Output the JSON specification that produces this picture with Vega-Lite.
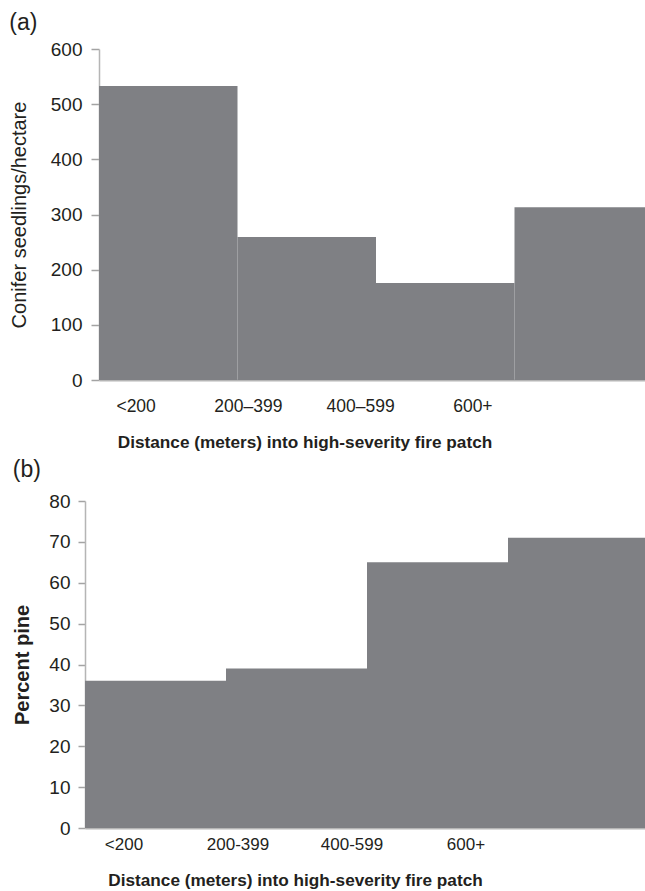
{
  "$schema": "https://vega.github.io/schema/vega-lite/v6.json",
  "background": "white",
  "padding": {"left": 9, "top": 12, "right": 0, "bottom": 0},
  "config": {
    "font": "Liberation Sans",
    "view": {"stroke": null},
    "axis": {
      "grid": false,
      "domainColor": "#b5b5b5",
      "tickColor": "#a3a3a3",
      "labelColor": "#231f20",
      "titleColor": "#231f20",
      "labelFont": "Liberation Sans",
      "titleFont": "Liberation Sans"
    },
    "title": {
      "anchor": "start",
      "frame": "bounds",
      "font": "Liberation Sans",
      "fontSize": 23,
      "fontWeight": "normal",
      "color": "#231f20"
    }
  },
  "columns": 1,
  "align": "none",
  "spacing": 8,
  "concat": [
    {
      "title": {"text": "(a)", "offset": 5},
      "width": 547,
      "height": 331,
      "data": {
        "values": [
          {"distance": "<200", "seedlings": 533},
          {"distance": "200–399", "seedlings": 259},
          {"distance": "400–599", "seedlings": 176},
          {"distance": "600+", "seedlings": 313}
        ]
      },
      "layer": [
        {
          "mark": {"type": "bar", "color": "#7f8084", "clip": true},
          "encoding": {
            "x": {
              "field": "distance",
              "type": "nominal",
              "sort": null,
              "scale": {"range": [0, 554], "paddingInner": 0, "paddingOuter": 0},
              "axis": {"orient": "bottom", "labels": false, "ticks": false, "title": null, "domainWidth": 2}
            },
            "y": {
              "field": "seedlings",
              "type": "quantitative",
              "scale": {"domain": [0, 600], "nice": false},
              "axis": {
                "values": [0, 100, 200, 300, 400, 500, 600],
                "title": "Conifer seedlings/hectare",
                "titleFontSize": 20,
                "titleFontWeight": "normal",
                "titlePadding": 21,
                "labelFontSize": 19,
                "labelPadding": 9,
                "tickSize": 8,
                "tickWidth": 1.5,
                "domainWidth": 1.5
              }
            }
          }
        },
        {
          "mark": {"type": "tick", "opacity": 0},
          "encoding": {
            "x": {
              "field": "distance",
              "type": "nominal",
              "sort": null,
              "scale": {"range": [-19, 430], "paddingInner": 0, "paddingOuter": 0},
              "axis": {
                "orient": "bottom",
                "domain": false,
                "ticks": false,
                "labelAngle": 0,
                "labelFontSize": 17.5,
                "labelPadding": 17,
                "title": "Distance (meters) into high-severity fire patch",
                "titleFontSize": 17.2,
                "titleFontWeight": "bold",
                "titlePadding": 19
              }
            }
          }
        }
      ],
      "resolve": {"scale": {"x": "independent"}, "axis": {"x": "independent"}}
    },
    {
      "title": {"text": "(b)", "offset": 10},
      "width": 548,
      "height": 327,
      "data": {
        "values": [
          {"distance": "<200", "pine": 36},
          {"distance": "200-399", "pine": 39},
          {"distance": "400-599", "pine": 65},
          {"distance": "600+", "pine": 71}
        ]
      },
      "layer": [
        {
          "mark": {"type": "bar", "color": "#7f8084"},
          "encoding": {
            "x": {
              "field": "distance",
              "type": "nominal",
              "sort": null,
              "scale": {"range": [-14, 550], "paddingInner": 0, "paddingOuter": 0},
              "axis": {"orient": "bottom", "labels": false, "ticks": false, "title": null, "domainWidth": 2}
            },
            "y": {
              "field": "pine",
              "type": "quantitative",
              "scale": {"domain": [0, 80], "nice": false},
              "axis": {
                "values": [0, 10, 20, 30, 40, 50, 60, 70, 80],
                "offset": 14,
                "title": "Percent pine",
                "titleFontSize": 20,
                "titleFontWeight": "bold",
                "titlePadding": 16,
                "labelFontSize": 19,
                "labelPadding": 8,
                "tickSize": 7,
                "tickWidth": 1.5,
                "domainWidth": 1.5
              }
            }
          }
        },
        {
          "mark": {"type": "tick", "opacity": 0},
          "encoding": {
            "x": {
              "field": "distance",
              "type": "nominal",
              "sort": null,
              "scale": {"range": [-32, 424], "paddingInner": 0, "paddingOuter": 0},
              "axis": {
                "orient": "bottom",
                "domain": false,
                "ticks": false,
                "labelAngle": 0,
                "labelFontSize": 17,
                "labelPadding": 8,
                "title": "Distance (meters) into high-severity fire patch",
                "titleFontSize": 17.2,
                "titleFontWeight": "bold",
                "titlePadding": 19
              }
            }
          }
        }
      ],
      "resolve": {"scale": {"x": "independent"}, "axis": {"x": "independent"}}
    }
  ]
}
